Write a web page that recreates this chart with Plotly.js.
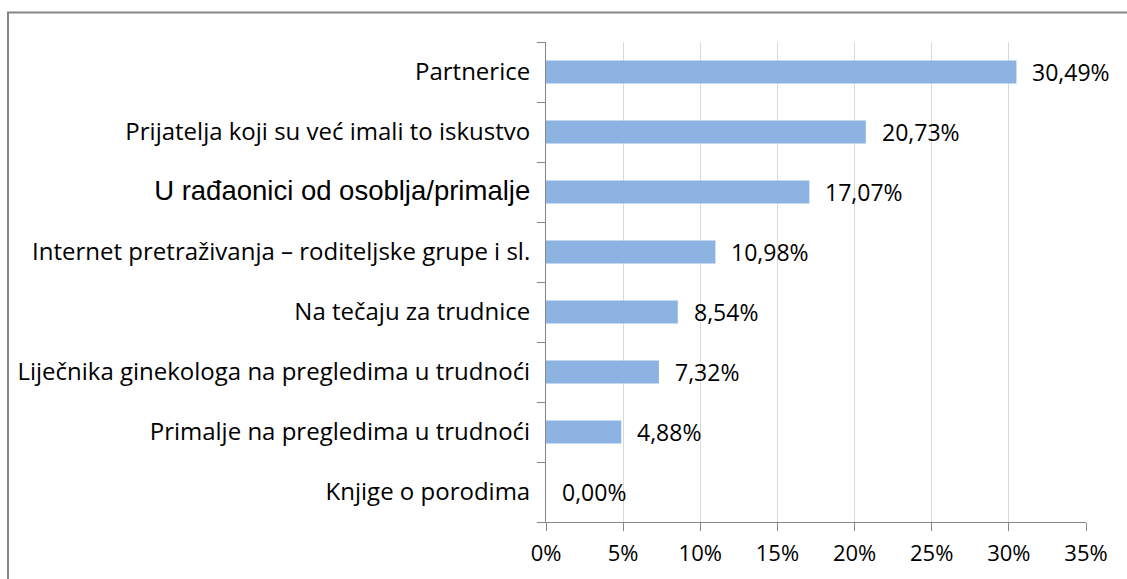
<!DOCTYPE html>
<html>
<head>
<meta charset="utf-8">
<script src="https://cdn.plot.ly/plotly-3.0.1.min.js"></script>
<style>
html,body{margin:0;padding:0;background:#fff;}
#chart{width:1127px;height:579px;}
</style>
</head>
<body>
<div id="chart"></div>
<script>
var categories = [
  "Partnerice",
  "Prijatelja koji su već imali to iskustvo",
  "U rađaonici od osoblja/primalje",
  "Internet pretraživanja – roditeljske grupe i sl.",
  "Na tečaju za trudnice",
  "Liječnika ginekologa na pregledima u trudnoći",
  "Primalje na pregledima u trudnoći",
  "Knjige o porodima"
];
var values = [30.49, 20.73, 17.07, 10.98, 8.54, 7.32, 4.88, 0.00];
var valueLabels = ["30,49%", "20,73%", "17,07%", "10,98%", "8,54%", "7,32%", "4,88%", "0,00%"];
var xTickVals = [0, 5, 10, 15, 20, 25, 30, 35];
var xTickText = ["0%", "5%", "10%", "15%", "20%", "25%", "30%", "35%"];

var tickLabels = categories.map(function (c) {
  if (c === "U rađaonici od osoblja/primalje") {
    return '<span style="font-family:Liberation Sans;font-size:27.5px">' + c + '</span>';
  }
  return c;
});

var trace = {
  type: "bar",
  orientation: "h",
  y: categories,
  x: values,
  marker: {color: "#8DB3E2", line: {width: 0}},
  width: 0.38,
  hoverinfo: "skip"
};

var annotations = categories.map(function (c, i) {
  return {
    x: values[i], y: c, xref: "x", yref: "y",
    text: valueLabels[i], showarrow: false,
    xanchor: "left", yanchor: "middle", xshift: 14,
    font: {family: "Open Sans, sans-serif", size: 23, color: "#000"}
  };
});

var L = 546, R = 41, T = 42, B = 57, W = 1127, H = 579;
var pw = W - L - R, ph = H - T - B;

var layout = {
  width: W, height: H,
  margin: {l: L, r: R, t: T, b: B, pad: 0},
  paper_bgcolor: "#fff", plot_bgcolor: "#fff",
  showlegend: false,
  font: {family: "Open Sans, sans-serif", size: 23, color: "#000"},
  xaxis: {
    range: [0, 35], tickvals: xTickVals, ticktext: xTickText,
    tickfont: {size: 22},
    showgrid: true, gridcolor: "#D9D9D9", gridwidth: 1,
    zeroline: false, showline: true, linecolor: "#868686", linewidth: 1,
    ticks: "outside", ticklen: 8, tickcolor: "#868686", tickwidth: 1,
    ticklabelstandoff: 4,
    fixedrange: true
  },
  yaxis: {
    type: "category",
    categoryorder: "array", categoryarray: categories,
    tickvals: categories, ticktext: tickLabels,
    tickfont: {size: 24},
    autorange: "reversed",
    tickson: "boundaries",
    showgrid: false, zeroline: false,
    showline: true, linecolor: "#868686", linewidth: 1,
    ticks: "outside", ticklen: 8, tickcolor: "#868686", tickwidth: 1,
    ticklabelstandoff: 10,
    fixedrange: true
  },
  annotations: annotations,
  shapes: [{
    type: "rect", xref: "paper", yref: "paper",
    x0: (8 - L) / pw, x1: 2, y0: -1, y1: 1 + (T - 12.5) / ph,
    line: {color: "#868686", width: 2}, fillcolor: "rgba(0,0,0,0)", layer: "above"
  }]
};

Plotly.newPlot("chart", [trace], layout, {displayModeBar: false, staticPlot: true});
</script>
</body>
</html>
